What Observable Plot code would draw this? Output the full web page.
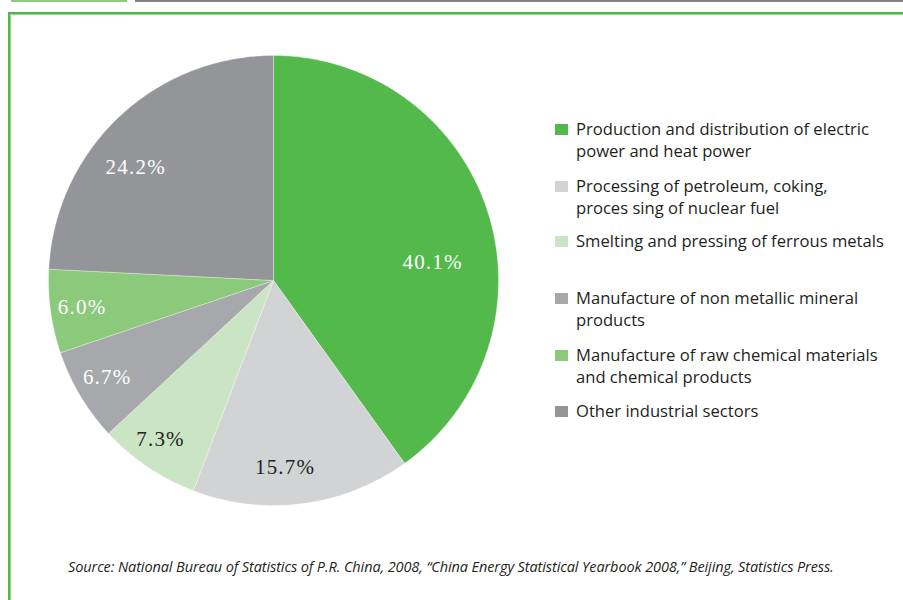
<!DOCTYPE html>
<html>
<head>
<meta charset="utf-8">
<script src="https://cdn.jsdelivr.net/npm/d3@7"></script>
<script src="https://cdn.jsdelivr.net/npm/@observablehq/plot@0.6"></script>
<style>
  html, body { margin: 0; padding: 0; background: #fff; }
  #page { position: relative; width: 903px; height: 600px; overflow: hidden; background: #fff; }
  .bar { position: absolute; height: 2px; top: 0; }
  #frame { position: absolute; left: 8px; top: 12px; width: 1000px; height: 700px;
           border-top: 2px solid #4cb848; border-left: 2px solid #4cb848; }
  #frame2 { position: absolute; left: 10px; top: 14px; width: 1000px; height: 700px;
           border-top: 1px solid #9bd38f; border-left: 1px solid #9bd38f; }
  #pie { position: absolute; left: 48px; top: 55px; }
  #legend { position: absolute; left: 555px; top: 118px; font-family: "Open Sans", sans-serif;
            font-size: 16.6px; line-height: 22px; color: #231f20; letter-spacing: 0px; }
  .item { position: absolute; left: 0; width: 340px; }
  .sw { position: absolute; left: 0; top: 6px; width: 13px; height: 11px; }
  .lab { position: absolute; left: 21px; top: 0; white-space: nowrap; }
  #caption { position: absolute; left: 68px; top: 557px; font-family: "Open Sans", sans-serif;
             font-style: italic; font-size: 14.5px; line-height: 20px; color: #231f20; letter-spacing: -0.1px; white-space: nowrap; }
</style>
</head>
<body>
<div id="page">
  <div class="bar" style="left:11px;width:116px;background:#8ccb7e"></div>
  <div class="bar" style="left:135px;width:768px;background:#808285"></div>
  <div id="frame"></div>
  <div id="frame2"></div>
  <div id="pie"></div>
  <div id="legend"></div>
  <div id="caption">Source: National Bureau of Statistics of P.R. China, 2008, “China Energy Statistical Yearbook 2008,” Beijing, Statistics Press.</div>
</div>
<script>
// ---- data ----
const sectors = [
  "Production and distribution of electric power and heat power",
  "Processing of petroleum, coking, proces sing of nuclear fuel",
  "Smelting and pressing of ferrous metals",
  "Manufacture of non metallic mineral products",
  "Manufacture of raw chemical materials and chemical products",
  "Other industrial sectors"
];
const legendLines = [
  ["Production and distribution of electric", "power and heat power"],
  ["Processing of petroleum, coking,", "proces sing of nuclear fuel"],
  ["Smelting and pressing of ferrous metals"],
  ["Manufacture of non metallic mineral", "products"],
  ["Manufacture of raw chemical materials", "and chemical products"],
  ["Other industrial sectors"]
];
const shares = [40.1, 15.7, 7.3, 6.7, 6.0, 24.2];
const labels = ["40.1%", "15.7%", "7.3%", "6.7%", "6.0%", "24.2%"];
const colors = ["#53b94a", "#d1d3d4", "#cbe5c4", "#a7a8ab", "#8bc97b", "#939598"];

// layout tweaks (label offsets in px, legend rows)
const labelNudge = [[-23, 40], [-13, -3], [-6, 0], [-2, -1], [-2, 0], [-6, 25]];
const legendTop = [0, 57, 112, 169, 226, 282];
const darkLabel = [false, true, true, false, false, false];

const R = 225; // pixels per data unit

// ---- pie geometry from data ----
const arcs = d3.pie().sort(null).value(d => d)(shares);
const pts = [];
const labs = [];
arcs.forEach((a, i) => {
  const n = Math.max(4, Math.ceil((a.endAngle - a.startAngle) / 0.01));
  pts.push({sector: sectors[i], x: 0, y: 0});
  for (let k = 0; k <= n; k++) {
    const t = a.startAngle + (a.endAngle - a.startAngle) * k / n;
    pts.push({sector: sectors[i], x: Math.sin(t), y: Math.cos(t)});
  }
  pts.push({sector: sectors[i], x: 0, y: 0});
  const m = (a.startAngle + a.endAngle) / 2;
  labs.push({
    text: labels[i], dark: darkLabel[i],
    x: 0.85 * Math.sin(m) + labelNudge[i][0] / R,
    y: 0.85 * Math.cos(m) - labelNudge[i][1] / R
  });
});

const textStyle = {fontFamily: "'Liberation Serif', 'Times New Roman', serif", fontSize: 21, textAnchor: "middle", lineAnchor: "middle"};

const chart = Plot.plot({
  width: 450, height: 450,
  margin: 0,
  x: {domain: [-1, 1], axis: null},
  y: {domain: [-1, 1], axis: null},
  color: {domain: sectors, range: colors},
  style: {background: "transparent", overflow: "visible"},
  marks: [
    Plot.line(pts, {x: "x", y: "y", z: "sector", fill: "sector", stroke: "white", strokeWidth: 0.4, strokeOpacity: 0.8}),
    Plot.text(labs.filter(d => !d.dark), {x: "x", y: "y", text: "text", fill: "white", ...textStyle}),
    Plot.text(labs.filter(d => d.dark), {x: "x", y: "y", text: "text", fill: "#231f20", ...textStyle})
  ]
});
chart.querySelectorAll("text").forEach(t => t.setAttribute("letter-spacing", "1.2"));
document.getElementById("pie").appendChild(chart);

// ---- legend using the plot's color scale ----
const color = chart.scale("color");
const leg = document.getElementById("legend");
sectors.forEach((s, i) => {
  const item = document.createElement("div");
  item.className = "item";
  item.style.top = legendTop[i] + "px";
  const sw = document.createElement("div");
  sw.className = "sw";
  sw.style.background = color.apply(s);
  const lab = document.createElement("div");
  lab.className = "lab";
  lab.innerHTML = legendLines[i].join("<br>");
  item.appendChild(sw);
  item.appendChild(lab);
  leg.appendChild(item);
});
</script>
</body>
</html>
